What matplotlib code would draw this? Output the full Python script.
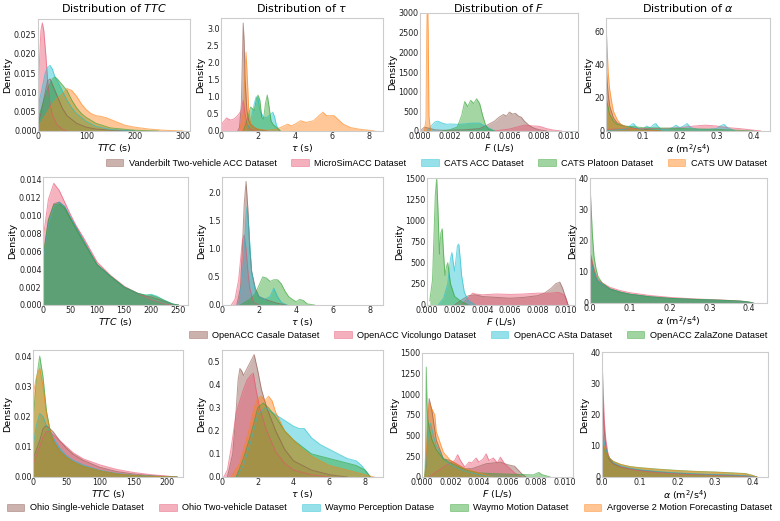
import matplotlib
matplotlib.use("Agg")
import matplotlib.pyplot as plt
from matplotlib.patches import Patch
from matplotlib.ticker import MultipleLocator

W, H = 780, 521

# ---- datasets per row ----
ROW1_NAMES = ["Vanderbilt Two-vehicle ACC Dataset", "MicroSimACC Dataset", "CATS ACC Dataset",
              "CATS Platoon Dataset", "CATS UW Dataset"]
ROW2_NAMES = ["OpenACC Casale Dataset", "OpenACC Vicolungo Dataset", "OpenACC ASta Dataset",
              "OpenACC ZalaZone Dataset"]
ROW3_NAMES = ["Ohio Single-vehicle Dataset", "Ohio Two-vehicle Dataset", "Waymo Perception Datase",
              "Waymo Motion Dataset", "Argoverse 2 Motion Forecasting Dataset"]

BROWN, PINK, CYAN, GREEN, ORANGE = "#8c564b", "#e8506e", "#17becf", "#2ca02c", "#ff7f0e"
ROW1_COLORS = [BROWN, PINK, CYAN, GREEN, ORANGE]
ROW2_COLORS = [BROWN, PINK, CYAN, GREEN]
ROW3_COLORS = [BROWN, PINK, CYAN, GREEN, ORANGE]

# ---- row 1 density curves: (x, density) per dataset ----
R1_TTC = [
    ([0, 5, 10, 15, 20, 25, 30, 40, 50, 60, 80, 100, 120, 150, 200],
     [0.002, 0.004, 0.007, 0.010, 0.013, 0.0135, 0.012, 0.009, 0.006, 0.004, 0.002, 0.001, 0.0005, 0.0002, 0]),
    ([0, 3, 6, 9, 12, 16, 20, 25, 30, 40, 50, 60],
     [0.006, 0.018, 0.026, 0.028, 0.026, 0.020, 0.013, 0.007, 0.004, 0.0015, 0.0005, 0]),
    ([0, 5, 10, 15, 20, 25, 30, 35, 40, 50, 60, 70, 80, 100, 120, 150, 200],
     [0.006, 0.009, 0.012, 0.015, 0.0165, 0.017, 0.016, 0.014, 0.013, 0.0105, 0.008, 0.006, 0.0045, 0.0025,
      0.0012, 0.0004, 0]),
    ([0, 10, 20, 30, 35, 40, 50, 60, 70, 80, 90, 100, 120, 150, 200, 250],
     [0.003, 0.007, 0.011, 0.0135, 0.014, 0.0135, 0.012, 0.0105, 0.008, 0.006, 0.0045, 0.0035, 0.002, 0.0008,
      0.0002, 0]),
    ([0, 10, 20, 30, 40, 50, 60, 70, 80, 90, 100, 110, 120, 130, 140, 160, 180, 200, 230, 260, 300],
     [0.001, 0.003, 0.005, 0.007, 0.0085, 0.0095, 0.011, 0.0105, 0.009, 0.007, 0.0055, 0.0045, 0.004, 0.0038,
      0.0035, 0.0025, 0.0015, 0.001, 0.0005, 0.0002, 0.0]),
]
R1_TAU = [
    ([0.9, 1.0, 1.1, 1.15, 1.2, 1.25, 1.3, 1.4, 1.5, 1.6, 1.8, 2.0, 2.5],
     [0, 0.1, 0.8, 2.0, 3.15, 2.6, 1.5, 0.6, 0.3, 0.2, 0.1, 0.05, 0]),
    ([0, 0.1, 0.3, 0.5, 0.7, 0.9, 1.1, 1.2, 1.3, 1.4, 1.6, 1.8, 2.0],
     [0.1, 0.25, 0.38, 0.32, 0.35, 0.45, 0.6, 0.9, 0.5, 0.2, 0.05, 0.02, 0]),
    ([1.4, 1.6, 1.8, 1.9, 2.0, 2.1, 2.3, 2.5, 2.7, 2.8, 2.9, 3.0, 3.2],
     [0, 0.3, 0.8, 1.0, 0.95, 0.6, 0.4, 0.4, 0.5, 0.55, 0.4, 0.15, 0]),
    ([1.2, 1.4, 1.6, 1.8, 1.9, 2.0, 2.1, 2.2, 2.3, 2.4, 2.5, 2.6, 2.7, 2.8, 3.0, 3.2],
     [0, 0.3, 0.7, 0.6, 0.9, 1.05, 0.9, 0.4, 0.35, 0.8, 1.05, 0.7, 0.3, 0.2, 0.1, 0]),
    ([1.0, 1.2, 1.3, 1.35, 1.4, 1.5, 1.6, 1.8, 2.0, 2.5, 3.0, 3.4, 3.6, 3.8, 4.0, 4.3, 4.6, 5.0, 5.3, 5.5,
      5.7, 5.9, 6.1, 6.3, 6.6, 7.0, 7.5, 8.0, 8.3],
     [0, 0.5, 1.8, 2.3, 1.8, 0.6, 0.2, 0.1, 0.05, 0.02, 0.05, 0.15, 0.2, 0.15, 0.2, 0.3, 0.25, 0.3, 0.45,
      0.55, 0.45, 0.45, 0.45, 0.35, 0.2, 0.1, 0.05, 0.02, 0]),
]
R1_F = [
    ([0, 0.0003, 0.0005, 0.0008, 0.001, 0.0015, 0.002, 0.003, 0.004, 0.0045, 0.005, 0.0053, 0.0056, 0.0058,
      0.006, 0.0062, 0.0064, 0.0066, 0.0068, 0.007, 0.0073, 0.0076, 0.008, 0.0085],
     [0, 100, 80, 50, 30, 20, 20, 30, 60, 150, 250, 350, 420, 380, 480, 430, 450, 380, 350, 250, 150, 80, 30, 0]),
    ([0.005, 0.006, 0.0065, 0.007, 0.0075, 0.008, 0.0085, 0.009, 0.0095],
     [0, 50, 100, 150, 130, 120, 60, 20, 0]),
    ([0.0005, 0.0008, 0.001, 0.0012, 0.0015, 0.0018, 0.002, 0.0025, 0.003, 0.0035, 0.004, 0.0045, 0.005],
     [0, 150, 230, 250, 200, 170, 180, 170, 180, 200, 200, 100, 0]),
    ([0.0015, 0.002, 0.0025, 0.0028, 0.003, 0.0032, 0.0034, 0.0036, 0.0038, 0.004, 0.0042, 0.0044, 0.0046, 0.005],
     [0, 30, 100, 400, 750, 620, 780, 700, 820, 700, 400, 150, 50, 0]),
    ([0.0003, 0.0004, 0.00045, 0.0005, 0.00055, 0.0006, 0.0007],
     [0, 300, 2500, 3500, 2500, 400, 0]),
]
R1_ALPHA = [
    ([0, 0.003, 0.006, 0.01, 0.02, 0.03, 0.05, 0.08, 0.1, 0.15],
     [40, 30, 22, 15, 8, 5, 3, 1.5, 1, 0]),
    ([0, 0.05, 0.1, 0.15, 0.2, 0.24, 0.27, 0.3, 0.33, 0.36, 0.4, 0.42],
     [1, 1.2, 1.5, 1.5, 2, 3, 3.5, 3, 2, 1.5, 0.5, 0]),
    ([0, 0.02, 0.05, 0.06, 0.07, 0.075, 0.08, 0.09, 0.1, 0.11, 0.12, 0.13, 0.135, 0.14, 0.15, 0.17, 0.18,
      0.19, 0.2, 0.21, 0.22, 0.23, 0.25, 0.28, 0.3, 0.31, 0.32, 0.33, 0.35],
     [0, 0.5, 1, 2, 4, 4.5, 3, 1, 1, 3, 2, 4, 4.5, 3, 1, 1, 2, 3.5, 2, 3, 4.5, 2, 1, 1, 1.5, 3, 4, 2, 0]),
    ([0, 0.005, 0.01, 0.02, 0.03, 0.05, 0.08, 0.1, 0.15, 0.2, 0.25, 0.3, 0.35, 0.4],
     [20, 15, 10, 6, 4, 3, 2.5, 2, 1.8, 1.5, 1.2, 1, 0.5, 0]),
    ([0, 0.003, 0.006, 0.01, 0.015, 0.02, 0.03, 0.04, 0.06, 0.08, 0.1, 0.15],
     [65, 50, 35, 25, 18, 12, 7, 4, 2, 1, 0.5, 0]),
]

# ---- row 2 ----
R2_TTC_X = [0, 10, 20, 30, 40, 50, 60, 75, 100, 125, 150, 175, 190, 200, 210, 225, 240, 250]
R2_TTC = [
    (R2_TTC_X, [0.005, 0.0095, 0.0113, 0.0115, 0.011, 0.0098, 0.0088, 0.0072, 0.0045, 0.0032, 0.002, 0.0013,
                0.001, 0.0009, 0.0007, 0.0004, 0.0001, 0.0]),
    (R2_TTC_X, [0.0073, 0.0118, 0.0136, 0.0128, 0.0115, 0.0102, 0.009, 0.0075, 0.0048, 0.0033, 0.0021, 0.0013,
                0.0009, 0.0006, 0.0004, 0.0001, 0.0, 0.0]),
    (R2_TTC_X, [0.005, 0.009, 0.011, 0.0115, 0.011, 0.0099, 0.0088, 0.0072, 0.0045, 0.0032, 0.002, 0.0013,
                0.0011, 0.0012, 0.001, 0.0005, 0.0001, 0.0]),
    (R2_TTC_X, [0.0055, 0.0095, 0.0112, 0.0113, 0.0108, 0.0097, 0.0086, 0.007, 0.0045, 0.0032, 0.002, 0.0013,
                0.0011, 0.0011, 0.0009, 0.0005, 0.0001, 0.0]),
]
R2_TAU = [
    ([0.8, 1.0, 1.1, 1.2, 1.3, 1.4, 1.5, 1.6, 1.8, 2.0, 2.5, 3.0, 3.5],
     [0, 0.3, 1.0, 1.8, 2.2, 1.7, 1.0, 0.6, 0.3, 0.15, 0.08, 0.03, 0]),
    ([0.5, 0.7, 0.9, 1.0, 1.1, 1.2, 1.3, 1.4, 1.5, 1.7, 2.0],
     [0, 0.1, 0.45, 0.8, 1.15, 1.25, 1.0, 0.6, 0.3, 0.05, 0]),
    ([0.9, 1.1, 1.2, 1.3, 1.35, 1.4, 1.5, 1.6, 1.8, 2.0, 2.3, 2.6, 2.8, 3.0, 3.2, 3.5],
     [0, 0.5, 1.0, 1.6, 1.75, 1.6, 1.1, 0.6, 0.25, 0.15, 0.1, 0.15, 0.3, 0.15, 0.05, 0]),
    ([1.0, 1.5, 1.8, 2.0, 2.2, 2.4, 2.6, 2.8, 3.0, 3.2, 3.4, 3.6, 3.8, 4.0, 4.2, 4.4, 4.6, 5.0],
     [0, 0.1, 0.2, 0.35, 0.5, 0.48, 0.42, 0.45, 0.45, 0.38, 0.25, 0.15, 0.1, 0.06, 0.1, 0.08, 0.02, 0]),
]
R2_F = [
    ([0.002, 0.0025, 0.003, 0.0035, 0.004, 0.005, 0.006, 0.007, 0.008, 0.0085, 0.009, 0.0093, 0.0096, 0.0098,
      0.01, 0.0102],
     [0, 60, 110, 120, 100, 90, 80, 90, 110, 140, 200, 250, 270, 200, 100, 0]),
    ([0.0025, 0.003, 0.0033, 0.0035, 0.004, 0.005, 0.006, 0.007, 0.008, 0.009, 0.0095, 0.0098, 0.01, 0.0102],
     [0, 90, 140, 130, 120, 130, 125, 130, 140, 140, 150, 130, 100, 0]),
    ([0.0008, 0.0012, 0.0015, 0.0017, 0.0018, 0.0019, 0.002, 0.0021, 0.0022, 0.0023, 0.0024, 0.0025, 0.0027,
      0.003, 0.0035],
     [0, 80, 250, 550, 620, 500, 400, 550, 700, 720, 550, 350, 150, 50, 0]),
    ([0.0002, 0.0004, 0.0005, 0.0006, 0.0007, 0.0008, 0.0009, 0.001, 0.0011, 0.0012, 0.0013, 0.0014, 0.0015,
      0.0017, 0.002, 0.0025, 0.003],
     [50, 300, 800, 1300, 1500, 1100, 600, 850, 900, 600, 350, 450, 500, 250, 100, 40, 0]),
]
R2_ALPHA_X = [0, 0.003, 0.006, 0.01, 0.015, 0.02, 0.03, 0.05, 0.075, 0.1, 0.15, 0.2, 0.25, 0.3, 0.35, 0.38,
              0.4, 0.41]
R2_ALPHA = [
    (R2_ALPHA_X, [15, 14, 12, 10, 8, 7, 6, 4.5, 3.5, 2.8, 2.0, 1.5, 1.2, 1.0, 0.8, 0.6, 0.3, 0]),
    (R2_ALPHA_X, [16, 15, 13, 11, 9, 7.5, 6.5, 5, 4, 3.3, 2.4, 1.8, 1.4, 1.1, 0.8, 0.5, 0.2, 0]),
    (R2_ALPHA_X, [14, 13, 11, 9.5, 8, 7, 6, 4.5, 3.5, 2.8, 2.0, 1.5, 1.2, 1.0, 0.7, 0.5, 0.2, 0]),
    (R2_ALPHA_X, [38, 30, 22, 15, 11, 8.5, 6.5, 4.5, 3.5, 2.8, 2.0, 1.5, 1.2, 1.0, 0.8, 0.6, 0.3, 0]),
]

# ---- row 3 ----
R3_TTC_X = [0, 5, 10, 15, 20, 25, 30, 40, 50, 60, 75, 100, 125, 150, 175, 200, 215]
R3_TTC = [
    (R3_TTC_X, [0.006, 0.009, 0.012, 0.016, 0.017, 0.016, 0.015, 0.012, 0.0095, 0.0075, 0.0055, 0.0032, 0.0018,
                0.001, 0.0005, 0.0002, 0]),
    (R3_TTC_X, [0.004, 0.007, 0.010, 0.013, 0.015, 0.015, 0.014, 0.012, 0.010, 0.008, 0.006, 0.004, 0.0025,
                0.0015, 0.0008, 0.0003, 0]),
    (R3_TTC_X, [0.01, 0.017, 0.021, 0.02, 0.017, 0.015, 0.013, 0.0095, 0.007, 0.0055, 0.004, 0.0022, 0.0012,
                0.0006, 0.0003, 0.0001, 0]),
    (R3_TTC_X, [0.018, 0.032, 0.040, 0.033, 0.022, 0.016, 0.012, 0.0085, 0.0065, 0.005, 0.0035, 0.002, 0.001,
                0.0005, 0.0002, 0.0001, 0]),
    (R3_TTC_X, [0.027, 0.033, 0.036, 0.03, 0.021, 0.016, 0.012, 0.0085, 0.0065, 0.005, 0.0035, 0.002, 0.001,
                0.0005, 0.0002, 0.0001, 0]),
]
R3_TAU = [
    ([0.3, 0.6, 0.8, 0.9, 1.0, 1.1, 1.2, 1.4, 1.6, 1.8, 2.0, 2.2, 2.5, 3.0, 3.5, 4.0, 5.0, 6.0, 7.0],
     [0, 0.1, 0.3, 0.42, 0.47, 0.46, 0.44, 0.47, 0.5, 0.53, 0.46, 0.38, 0.3, 0.2, 0.12, 0.07, 0.03, 0.01, 0]),
    ([0.1, 0.3, 0.5, 0.8, 1.0, 1.2, 1.4, 1.6, 1.75, 1.9, 2.1, 2.5, 3.0, 3.5, 4.0, 5.0, 6.0],
     [0, 0.03, 0.12, 0.28, 0.33, 0.38, 0.42, 0.44, 0.45, 0.38, 0.3, 0.2, 0.11, 0.06, 0.03, 0.01, 0]),
    ([0.8, 1.2, 1.6, 2.0, 2.4, 2.8, 3.2, 3.6, 4.0, 4.3, 4.6, 5.0, 5.5, 6.0, 6.5, 7.0, 7.5, 7.8, 8.0, 8.3],
     [0, 0.05, 0.15, 0.27, 0.3, 0.28, 0.26, 0.24, 0.22, 0.21, 0.21, 0.17, 0.14, 0.12, 0.1, 0.08, 0.07, 0.05,
      0.03, 0]),
    ([0.8, 1.2, 1.6, 2.0, 2.3, 2.6, 3.0, 3.5, 4.0, 4.5, 5.0, 6.0, 7.0, 7.5, 8.0, 8.3],
     [0, 0.08, 0.18, 0.3, 0.32, 0.3, 0.26, 0.2, 0.16, 0.13, 0.1, 0.08, 0.06, 0.05, 0.03, 0]),
    ([0.5, 1.0, 1.5, 1.8, 2.0, 2.2, 2.4, 2.6, 2.8, 3.0, 3.5, 4.0, 4.5, 5.0, 6.0, 7.0, 8.0, 8.5],
     [0, 0.06, 0.2, 0.3, 0.34, 0.35, 0.33, 0.35, 0.33, 0.28, 0.2, 0.16, 0.12, 0.09, 0.05, 0.03, 0.01, 0]),
]
R3_F = [
    ([0.0002, 0.0003, 0.0004, 0.0005, 0.0007, 0.001, 0.0015, 0.002, 0.0025, 0.003, 0.0035, 0.004, 0.0045,
      0.005, 0.0055, 0.006, 0.0065, 0.007, 0.0073],
     [0, 150, 600, 950, 800, 450, 220, 200, 150, 100, 100, 130, 160, 170, 180, 150, 130, 40, 0]),
    ([0.0005, 0.001, 0.0015, 0.002, 0.0023, 0.0025, 0.0027, 0.003, 0.0033, 0.0035, 0.0038, 0.004, 0.0043,
      0.0045, 0.0047, 0.005, 0.0053, 0.0055, 0.0058, 0.006, 0.0065, 0.007],
     [0, 60, 120, 170, 200, 270, 200, 120, 180, 170, 230, 180, 220, 280, 200, 230, 170, 240, 160, 130, 50, 0]),
    ([0.0002, 0.0003, 0.0005, 0.0006, 0.0008, 0.001, 0.0012, 0.0015, 0.002, 0.0025, 0.003, 0.004, 0.005],
     [0, 200, 600, 650, 500, 380, 320, 220, 150, 110, 70, 30, 0]),
    ([0.0002, 0.00025, 0.0003, 0.00035, 0.0004, 0.0005, 0.0007, 0.001, 0.0015, 0.002, 0.003, 0.004, 0.005,
      0.006, 0.007, 0.0078, 0.008, 0.0082, 0.0084, 0.009],
     [0, 300, 1330, 900, 700, 600, 450, 330, 220, 170, 90, 50, 40, 35, 30, 25, 40, 55, 30, 0]),
    ([0.0002, 0.0003, 0.0004, 0.0005, 0.0007, 0.0009, 0.001, 0.0012, 0.0015, 0.002, 0.0025, 0.003, 0.004, 0.005],
     [0, 250, 700, 900, 820, 750, 550, 450, 300, 200, 150, 100, 50, 0]),
]
R3_ALPHA_X = R2_ALPHA_X
R3_ALPHA = [
    (R3_ALPHA_X, [30, 22, 15, 10, 7, 5.5, 4.2, 3.2, 2.6, 2.2, 1.6, 1.2, 0.9, 0.7, 0.5, 0.3, 0.1, 0]),
    (R3_ALPHA_X, [38, 28, 18, 12, 8, 6, 4.5, 3.2, 2.5, 2.0, 1.4, 1.0, 0.8, 0.6, 0.4, 0.3, 0.1, 0]),
    (R3_ALPHA_X, [15, 13, 11, 9, 7, 6, 4.5, 3.5, 2.8, 2.3, 1.7, 1.3, 1.0, 0.8, 0.6, 0.4, 0.1, 0]),
    (R3_ALPHA_X, [12, 10, 9, 8, 7, 6, 5, 4, 3.3, 3.0, 2.5, 2.1, 1.8, 1.6, 1.3, 1.1, 0.5, 0]),
    (R3_ALPHA_X, [13, 11, 9.5, 8, 7, 6, 5, 4, 3.3, 2.9, 2.4, 2.0, 1.7, 1.5, 1.2, 1.0, 0.4, 0]),
]

XLABELS = ["$TTC$ (s)", r"$\tau$ (s)", "$F$ (L/s)", r"$\alpha$ (m$^2$/s$^4$)"]
TITLES = ["Distribution of $TTC$", r"Distribution of $\tau$", "Distribution of $F$", r"Distribution of $\alpha$"]

ROWS = [
    (R1_TTC, R1_TAU, R1_F, R1_ALPHA),
    (R2_TTC, R2_TAU, R2_F, R2_ALPHA),
    (R3_TTC, R3_TAU, R3_F, R3_ALPHA),
]
# pixel box (left, top, right, bottom) of every panel
BOXES = [
    [(38, 19, 190, 131), (221, 18, 383, 131), (420, 13, 578, 131), (606, 18, 770, 131)],
    [(43, 177, 188, 305), (222, 177, 383, 305), (427, 178, 575, 305), (590, 178, 767, 303)],
    [(33, 350, 183, 477), (222, 350, 383, 477), (422, 353, 573, 477), (602, 352, 768, 477)],
]
# xlim, ylim, x tick step, y tick step
LIMITS = [
    [((0, 315), (0, 0.029), 100, 0.005), ((0, 8.75), (0, 3.3), 2, 0.5),
     ((0, 0.0106), (0, 3000), 0.002, 500), ((0, 0.445), (0, 68), 0.1, 20)],
    [((0, 268), (0, 0.0143), 50, 0.002), ((0, 8.7), (0, 2.28), 2, 0.5),
     ((0, 0.0107), (0, 1500), 0.002, 250), ((0, 0.445), (0, 40), 0.1, 10)],
    [((0, 224), (0, 0.042), 50, 0.01), ((0, 9.0), (0, 0.55), 2, 0.1),
     ((0, 0.0106), (0, 1500), 0.002, 250), ((0, 0.44), (0, 40), 0.1, 10)],
]
ROW_COLORS = [ROW1_COLORS, ROW2_COLORS, ROW3_COLORS]
ROW_NAMES = [ROW1_NAMES, ROW2_NAMES, ROW3_NAMES]
LEGEND_Y = [163, 335, 508]
LEGEND_RIGHT = [767, 767, 772]
LEGEND_COLSPACING = [1.6, 1.6, 1.7]

fig = plt.figure(figsize=(W / 100, H / 100), dpi=100)

for r, panels in enumerate(ROWS):
    colors = ROW_COLORS[r]
    for c, curves in enumerate(panels):
        l, t, rr, b = BOXES[r][c]
        ax = fig.add_axes([l / W, 1 - b / H, (rr - l) / W, (b - t) / H])
        for (xs, ys), col in zip(curves, colors):
            ax.fill_between(xs, ys, 0, color=col, alpha=0.43, lw=0)
            ax.plot(xs, ys, color=col, alpha=0.6, lw=0.7)
        xlim, ylim, xstep, ystep = LIMITS[r][c]
        ax.set_xlim(*xlim)
        ax.set_ylim(*ylim)
        ax.xaxis.set_major_locator(MultipleLocator(xstep))
        ax.yaxis.set_major_locator(MultipleLocator(ystep))
        ax.tick_params(length=0, labelsize=5.8, pad=1, colors="#222222")
        ax.set_xlabel(XLABELS[c], fontsize=6.8, labelpad=0.5)
        ax.set_ylabel("Density", fontsize=6.8, labelpad=1)
        for s in ax.spines.values():
            s.set_color("#cccccc")
            s.set_linewidth(0.8)
        if r == 0:
            fig.text((l + rr) / 2 / W, 1 - 8 / H, TITLES[c], fontsize=8, ha="center", va="center")

legend_font = {"family": ["Liberation Sans", "DejaVu Sans"], "size": 6.6}
for r in range(3):
    handles = [Patch(facecolor=col, edgecolor=col, alpha=0.45, lw=0.6) for col in ROW_COLORS[r]]
    fig.legend(handles, ROW_NAMES[r], loc="center right",
               bbox_to_anchor=(LEGEND_RIGHT[r] / W, 1 - LEGEND_Y[r] / H),
               ncol=len(handles), frameon=False, prop=legend_font,
               handlelength=1.9, handleheight=0.9, columnspacing=LEGEND_COLSPACING[r], handletextpad=0.6,
               borderaxespad=0, borderpad=0)

fig.savefig("out.png", dpi=100)
